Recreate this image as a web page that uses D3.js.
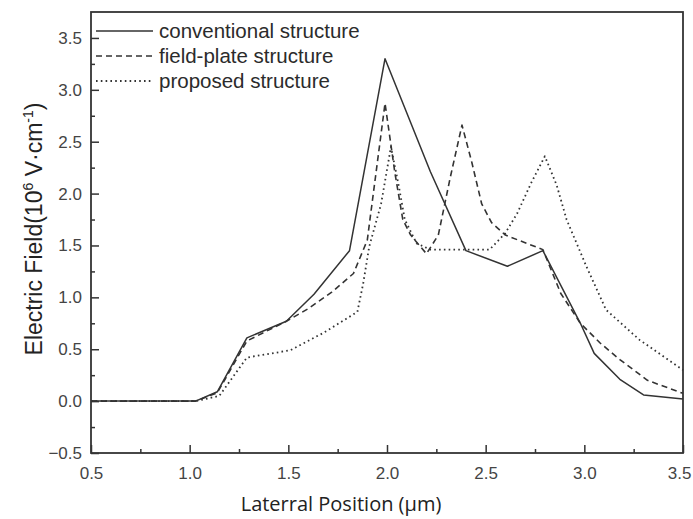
<!DOCTYPE html>
<html>
<head>
<meta charset="utf-8">
<script src="https://cdn.jsdelivr.net/npm/d3@7"></script>
<style>
  html, body { margin: 0; padding: 0; background: #fff; }
  svg { display: block; }
</style>
</head>
<body>
<svg id="chart" width="693" height="519"></svg>
<script>
// Electric field profiles along the lateral position of three device structures
const seriesNames = ["conventional structure", "field-plate structure", "proposed structure"];

const conventionalX = [0.5, 1.03, 1.14, 1.29, 1.49, 1.63, 1.81, 1.99, 2.22, 2.40, 2.61, 2.79, 2.98, 3.05, 3.18, 3.30, 3.50];
const conventionalY = [0.0, 0.0, 0.09, 0.61, 0.77, 1.03, 1.45, 3.30, 2.21, 1.45, 1.30, 1.45, 0.75, 0.46, 0.21, 0.06, 0.02];

const fieldPlateX = [0.5, 1.03, 1.14, 1.29, 1.49, 1.60, 1.72, 1.83, 1.90, 1.99, 2.04, 2.08, 2.12, 2.20, 2.26, 2.32, 2.38, 2.43, 2.48, 2.53, 2.60, 2.79, 2.88, 2.98, 3.08, 3.18, 3.32, 3.50];
const fieldPlateY = [0.0, 0.0, 0.08, 0.58, 0.77, 0.89, 1.05, 1.23, 1.55, 2.87, 2.20, 1.75, 1.60, 1.42, 1.60, 2.15, 2.66, 2.30, 1.90, 1.72, 1.60, 1.46, 1.04, 0.75, 0.56, 0.40, 0.20, 0.075];

const proposedX = [0.5, 1.03, 1.15, 1.29, 1.51, 1.68, 1.85, 1.88, 1.91, 1.97, 2.02, 2.06, 2.09, 2.15, 2.22, 2.52, 2.60, 2.66, 2.73, 2.80, 2.86, 2.91, 3.01, 3.11, 3.28, 3.50];
const proposedY = [0.0, 0.0, 0.05, 0.42, 0.49, 0.66, 0.86, 1.14, 1.49, 1.90, 2.45, 2.07, 1.75, 1.52, 1.46, 1.46, 1.62, 1.81, 2.10, 2.36, 2.08, 1.75, 1.30, 0.88, 0.59, 0.30];

const xTicks = [0.5, 1.0, 1.5, 2.0, 2.5, 3.0, 3.5];
const yTicks = [-0.5, 0.0, 0.5, 1.0, 1.5, 2.0, 2.5, 3.0, 3.5];

const ink = "#333";
const svg = d3.select("#chart");
const margin = { left: 91, right: 10, top: 12, bottom: 66 };
const W = 693, H = 519;

const x = d3.scaleLinear().domain([0.5, 3.5]).range([margin.left, W - margin.right]);
const y = d3.scaleLinear().domain([-0.5, 3.75]).range([H - margin.bottom, margin.top]);

const plot = { x0: x(0.5), x1: x(3.5), y0: y(3.75), y1: y(-0.5) };

// Inward ticks: bottom and left axes, major + minor
const xAxis = d3.axisBottom(x).tickValues(xTicks).tickFormat(d3.format(".1f")).tickSizeInner(-8).tickSizeOuter(0).tickPadding(14);
const xMinor = d3.axisBottom(x).tickValues(d3.range(0.75, 3.5, 0.5)).tickFormat("").tickSizeInner(-4).tickSizeOuter(0);
const yAxis = d3.axisLeft(y).tickValues(yTicks).tickFormat(d3.format(".1f")).tickSizeInner(-8).tickSizeOuter(0).tickPadding(9);
const yMinor = d3.axisLeft(y).tickValues(d3.range(-0.25, 3.75, 0.5)).tickFormat("").tickSizeInner(-4).tickSizeOuter(0);

function styleAxis(g) {
  g.select(".domain").remove();
  g.selectAll("line").attr("stroke", ink).attr("stroke-width", 1.5);
  g.selectAll("text").attr("fill", "#444").style("font-family", "Arial, 'Liberation Sans', sans-serif").style("font-size", "17px");
}

svg.append("g").attr("transform", `translate(0,${plot.y1})`).call(xAxis).call(styleAxis)
  // keep the last label inside the right page edge
  .selectAll(".tick text").filter(d => d === 3.5).attr("text-anchor", "end").attr("dx", "8");
svg.append("g").attr("transform", `translate(0,${plot.y1})`).call(xMinor).call(styleAxis);
svg.append("g").attr("transform", `translate(${plot.x0},0)`).call(yAxis).call(styleAxis);
svg.append("g").attr("transform", `translate(${plot.x0},0)`).call(yMinor).call(styleAxis);

// Frame
svg.append("rect")
  .attr("x", plot.x0).attr("y", plot.y0)
  .attr("width", plot.x1 - plot.x0).attr("height", plot.y1 - plot.y0)
  .attr("fill", "none").attr("stroke", ink).attr("stroke-width", 1.8);

// Curves
const line = d3.line().x(d => x(d[0])).y(d => y(d[1]));
const series = [
  { name: seriesNames[0], xs: conventionalX, ys: conventionalY, dash: null, width: 1.5 },
  { name: seriesNames[1], xs: fieldPlateX, ys: fieldPlateY, dash: "6,4", width: 1.6 },
  { name: seriesNames[2], xs: proposedX, ys: proposedY, dash: "1.6,3.2", width: 1.8 }
];

series.forEach(s => {
  svg.append("path")
    .datum(s.xs.map((v, i) => [v, s.ys[i]]))
    .attr("d", line)
    .attr("fill", "none")
    .attr("stroke", ink)
    .attr("stroke-width", s.width)
    .attr("stroke-dasharray", s.dash)
    .attr("stroke-linejoin", "round");
});

// Legend
const legend = svg.append("g");
series.forEach((s, i) => {
  const ly = 31 + i * 25;
  legend.append("line")
    .attr("x1", 96).attr("x2", 153).attr("y1", ly).attr("y2", ly)
    .attr("stroke", ink).attr("stroke-width", s.width)
    .attr("stroke-dasharray", s.dash);
  legend.append("text")
    .attr("x", 159).attr("y", ly + 7)
    .attr("fill", "#2b2b2b")
    .style("font-family", "Arial, 'Liberation Sans', sans-serif")
    .style("font-size", "20.5px")
    .text(s.name);
});

// Axis titles
svg.append("text")
  .attr("x", 341).attr("y", 511)
  .attr("text-anchor", "middle")
  .attr("fill", "#222")
  .style("font-family", "'Open Sans', 'Noto Sans', sans-serif")
  .style("font-size", "20px")
  .text("Laterral Position (μm)");

const yTitle = svg.append("text")
  .attr("transform", `translate(42,229) rotate(-90)`)
  .attr("text-anchor", "middle")
  .attr("fill", "#222")
  .style("font-family", "Arial, 'Liberation Sans', sans-serif")
  .style("font-size", "23px");
yTitle.append("tspan").text("Electric Field(10");
yTitle.append("tspan").attr("dy", -9).style("font-size", "14px").text("6");
yTitle.append("tspan").attr("dy", 9).text(" V·cm");
yTitle.append("tspan").attr("dy", -9).style("font-size", "14px").text("-1");
yTitle.append("tspan").attr("dy", 9).text(")");
</script>
</body>
</html>
